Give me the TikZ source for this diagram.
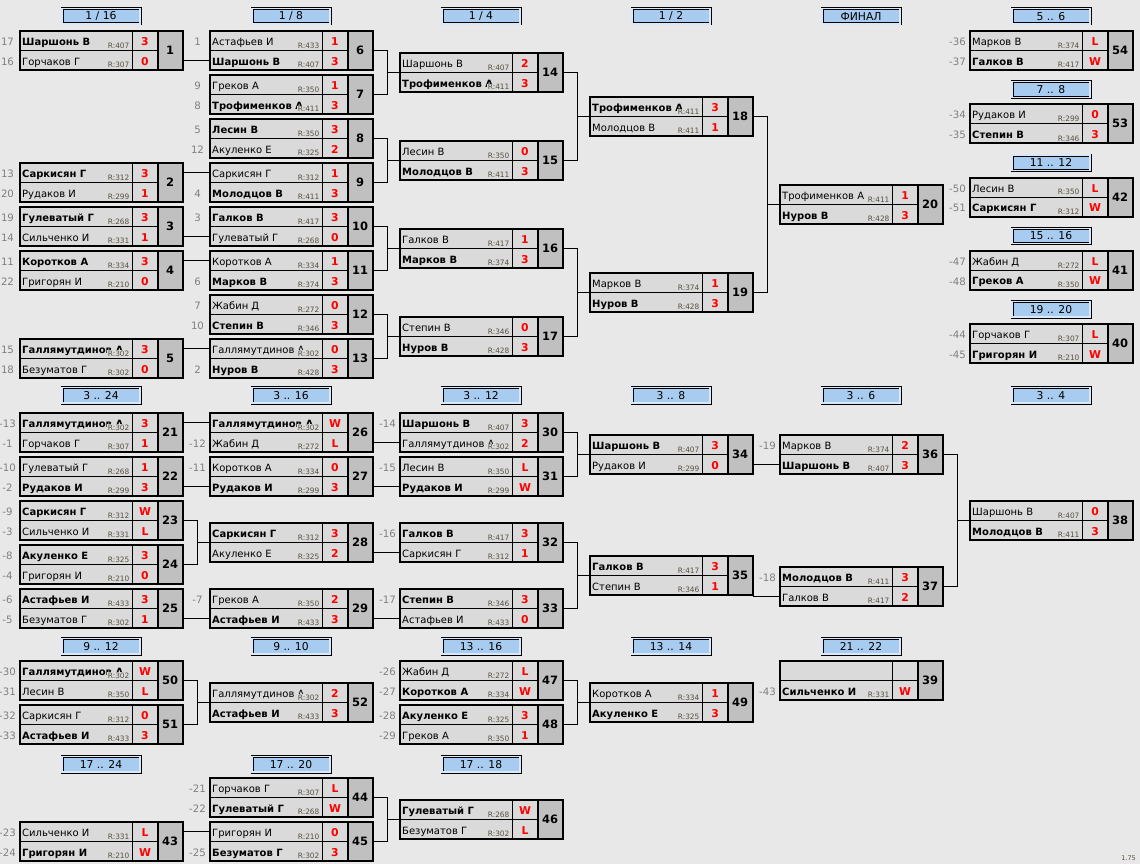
\documentclass[tikz,border=0pt]{standalone}
\usepackage{fontspec}
\setmainfont{DejaVu Sans}
\usetikzlibrary{calc}
\definecolor{bgc}{RGB}{232,232,232}
\definecolor{cellc}{RGB}{218,218,218}
\definecolor{numc}{RGB}{192,192,192}
\definecolor{hdrc}{RGB}{168,204,240}
\definecolor{rc}{RGB}{88,80,66}
\definecolor{seedc}{RGB}{128,128,128}
\tikzset{
 nm/.style={anchor=base west, inner sep=0pt, font=\fontsize{10}{12}\selectfont},
 rl/.style={anchor=base east, inner sep=0.4pt, fill=cellc, text=rc, font=\fontsize{7.4}{9}\selectfont},
 sc/.style={anchor=base, inner sep=0pt, text=red, font=\bfseries\fontsize{10.8}{13}\selectfont},
 num/.style={inner sep=0pt, font=\bfseries\fontsize{11.5}{14}\selectfont},
 seed/.style={anchor=base, inner sep=0pt, text=seedc, font=\fontsize{10.2}{12}\selectfont},
 hdr/.style={draw=black, line width=0.8pt, double=hdrc!45!white, double distance=1.4pt, fill=hdrc, minimum width=78pt, minimum height=15.5pt, inner sep=0pt, font=\fontsize{10.8}{13}\selectfont},
 conn/.style={line width=0.9pt},
 frame/.style={line width=2pt},
 grid/.style={line width=0.8pt}
}
% #1 x, #2 y, #3 number, #4 name1, #5 R1, #6 s1, #7 name2, #8 R2, #9 s2
\newcommand\Match[9]{%
 \begin{scope}[shift={(#1,#2)}]
  \fill[cellc] (0,0) rectangle (138,39);
  \fill[numc] (138,0) rectangle (163,39);
  \draw[grid] (0,19.5) -- (138,19.5) (113,0) -- (113,39);
  \begin{scope}
   \clip (0,0) rectangle (113,39);
   \node[nm] (m#3-n1) at (2.5,14.7) {#4};
   \node[nm] (m#3-n2) at (2.5,34.2) {#7};
  \end{scope}
  \ifx\relax#5\relax\else\node[rl] (m#3-r1) at (110.5,17.3) {R:#5};\fi
  \ifx\relax#8\relax\else\node[rl] (m#3-r2) at (110.5,36.8) {R:#8};\fi
  \node[sc] (m#3-s1) at (125.5,14.6) {#6};
  \node[sc] (m#3-s2) at (125.5,34.1) {#9};
  \node[num] (m#3) at (150.5,19.5) {#3};
  \draw[frame] (0,0) rectangle (163,39) (138,0) -- (138,39);
  \coordinate (m#3-a) at (0,9.75);
  \coordinate (m#3-b) at (0,29.25);
  \coordinate (m#3-l) at (0,19.5);
  \coordinate (m#3-r) at (163,19.5);
 \end{scope}}
\newcommand\Hd[4]{\node[hdr] (#1) at (#2+81.5,#3+9.25) {#4};}
\newcommand\St[2]{\draw[conn] (m#1-r |- #2) -- (#2);}
\newcommand\Br[3]{\draw[conn] (m#1-r) -- ++(15,0) coordinate (v#3) |- (m#2-r);
 \draw[conn] (v#3 |- m#3-l) -- (m#3-l);}
\newcommand\Sd[2]{\path (#1) ++(-12,5) node[seed] (s-#1) {#2};}
\begin{document}
\begin{tikzpicture}[x=1pt,y=-1pt]
\fill[bgc] (0,0) rectangle (1140,864);
\useasboundingbox (0,0) rectangle (1140,864);
% headers
\Hd{h1}{19.5}{7}{1 / 16}
\Hd{h2}{209.5}{7}{1 / 8}
\Hd{h3}{399.5}{7}{1 / 4}
\Hd{h4}{589.5}{7}{1 / 2}
\Hd{h5}{779.5}{7}{ФИНАЛ}
\Hd{h6}{969.5}{7}{5 .. 6}
\Hd{h7}{969.5}{80.25}{7 .. 8}
\Hd{h8}{969.5}{153.5}{11 .. 12}
\Hd{h9}{969.5}{226.75}{15 .. 16}
\Hd{h10}{969.5}{300}{19 .. 20}
\Hd{h11}{19.5}{386}{3 .. 24}
\Hd{h12}{209.5}{386}{3 .. 16}
\Hd{h13}{399.5}{386}{3 .. 12}
\Hd{h14}{589.5}{386}{3 .. 8}
\Hd{h15}{779.5}{386}{3 .. 6}
\Hd{h16}{969.5}{386}{3 .. 4}
\Hd{h17}{19.5}{637}{9 .. 12}
\Hd{h18}{209.5}{637}{9 .. 10}
\Hd{h19}{399.5}{637}{13 .. 16}
\Hd{h20}{589.5}{637}{13 .. 14}
\Hd{h21}{779.5}{637}{21 .. 22}
\Hd{h22}{19.5}{755}{17 .. 24}
\Hd{h23}{209.5}{755}{17 .. 20}
\Hd{h24}{399.5}{755}{17 .. 18}
% section 1
\Match{19.5}{31}{1}{\textbf{Шаршонь В}}{407}{3}{Горчаков Г}{307}{0}
\Match{19.5}{163}{2}{\textbf{Саркисян Г}}{312}{3}{Рудаков И}{299}{1}
\Match{19.5}{207}{3}{\textbf{Гулеватый Г}}{268}{3}{Сильченко И}{331}{1}
\Match{19.5}{251}{4}{\textbf{Коротков А}}{334}{3}{Григорян И}{210}{0}
\Match{19.5}{339}{5}{\textbf{Галлямутдинов А}}{302}{3}{Безуматов Г}{302}{0}
\Match{209.5}{31}{6}{Астафьев И}{433}{1}{\textbf{Шаршонь В}}{407}{3}
\Match{209.5}{75}{7}{Греков А}{350}{1}{\textbf{Трофименков А}}{411}{3}
\Match{209.5}{119}{8}{\textbf{Лесин В}}{350}{3}{Акуленко Е}{325}{2}
\Match{209.5}{163}{9}{Саркисян Г}{312}{1}{\textbf{Молодцов В}}{411}{3}
\Match{209.5}{207}{10}{\textbf{Галков В}}{417}{3}{Гулеватый Г}{268}{0}
\Match{209.5}{251}{11}{Коротков А}{334}{1}{\textbf{Марков В}}{374}{3}
\Match{209.5}{295}{12}{Жабин Д}{272}{0}{\textbf{Степин В}}{346}{3}
\Match{209.5}{339}{13}{Галлямутдинов А}{302}{0}{\textbf{Нуров В}}{428}{3}
\Match{399.5}{53}{14}{Шаршонь В}{407}{2}{\textbf{Трофименков А}}{411}{3}
\Match{399.5}{141}{15}{Лесин В}{350}{0}{\textbf{Молодцов В}}{411}{3}
\Match{399.5}{229}{16}{Галков В}{417}{1}{\textbf{Марков В}}{374}{3}
\Match{399.5}{317}{17}{Степин В}{346}{0}{\textbf{Нуров В}}{428}{3}
\Match{589.5}{97}{18}{\textbf{Трофименков А}}{411}{3}{Молодцов В}{411}{1}
\Match{589.5}{273}{19}{Марков В}{374}{1}{\textbf{Нуров В}}{428}{3}
\Match{779.5}{185}{20}{Трофименков А}{411}{1}{\textbf{Нуров В}}{428}{3}
\Match{969.5}{31}{54}{Марков В}{374}{L}{\textbf{Галков В}}{417}{W}
\Match{969.5}{104.25}{53}{Рудаков И}{299}{0}{\textbf{Степин В}}{346}{3}
\Match{969.5}{177.5}{42}{Лесин В}{350}{L}{\textbf{Саркисян Г}}{312}{W}
\Match{969.5}{250.75}{41}{Жабин Д}{272}{L}{\textbf{Греков А}}{350}{W}
\Match{969.5}{324}{40}{Горчаков Г}{307}{L}{\textbf{Григорян И}}{210}{W}
% section 2
\Match{19.5}{413}{21}{\textbf{Галлямутдинов А}}{302}{3}{Горчаков Г}{307}{1}
\Match{19.5}{457}{22}{Гулеватый Г}{268}{1}{\textbf{Рудаков И}}{299}{3}
\Match{19.5}{501}{23}{\textbf{Саркисян Г}}{312}{W}{Сильченко И}{331}{L}
\Match{19.5}{545}{24}{\textbf{Акуленко Е}}{325}{3}{Григорян И}{210}{0}
\Match{19.5}{589}{25}{\textbf{Астафьев И}}{433}{3}{Безуматов Г}{302}{1}
\Match{209.5}{413}{26}{\textbf{Галлямутдинов А}}{302}{W}{Жабин Д}{272}{L}
\Match{209.5}{457}{27}{Коротков А}{334}{0}{\textbf{Рудаков И}}{299}{3}
\Match{209.5}{523}{28}{\textbf{Саркисян Г}}{312}{3}{Акуленко Е}{325}{2}
\Match{209.5}{589}{29}{Греков А}{350}{2}{\textbf{Астафьев И}}{433}{3}
\Match{399.5}{413}{30}{\textbf{Шаршонь В}}{407}{3}{Галлямутдинов А}{302}{2}
\Match{399.5}{457}{31}{Лесин В}{350}{L}{\textbf{Рудаков И}}{299}{W}
\Match{399.5}{523}{32}{\textbf{Галков В}}{417}{3}{Саркисян Г}{312}{1}
\Match{399.5}{589}{33}{\textbf{Степин В}}{346}{3}{Астафьев И}{433}{0}
\Match{589.5}{435}{34}{\textbf{Шаршонь В}}{407}{3}{Рудаков И}{299}{0}
\Match{589.5}{556}{35}{\textbf{Галков В}}{417}{3}{Степин В}{346}{1}
\Match{779.5}{435}{36}{Марков В}{374}{2}{\textbf{Шаршонь В}}{407}{3}
\Match{779.5}{567}{37}{\textbf{Молодцов В}}{411}{3}{Галков В}{417}{2}
\Match{969.5}{501}{38}{Шаршонь В}{407}{0}{\textbf{Молодцов В}}{411}{3}
% section 3
\Match{19.5}{661}{50}{\textbf{Галлямутдинов А}}{302}{W}{Лесин В}{350}{L}
\Match{19.5}{705}{51}{Саркисян Г}{312}{0}{\textbf{Астафьев И}}{433}{3}
\Match{209.5}{683}{52}{Галлямутдинов А}{302}{2}{\textbf{Астафьев И}}{433}{3}
\Match{399.5}{661}{47}{Жабин Д}{272}{L}{\textbf{Коротков А}}{334}{W}
\Match{399.5}{705}{48}{\textbf{Акуленко Е}}{325}{3}{Греков А}{350}{1}
\Match{589.5}{683}{49}{Коротков А}{334}{1}{\textbf{Акуленко Е}}{325}{3}
\Match{779.5}{661}{39}{}{}{}{\textbf{Сильченко И}}{331}{W}
% section 4
\Match{19.5}{822}{43}{Сильченко И}{331}{L}{\textbf{Григорян И}}{210}{W}
\Match{209.5}{778}{44}{Горчаков Г}{307}{L}{\textbf{Гулеватый Г}}{268}{W}
\Match{209.5}{822}{45}{Григорян И}{210}{0}{\textbf{Безуматов Г}}{302}{3}
\Match{399.5}{800}{46}{\textbf{Гулеватый Г}}{268}{W}{Безуматов Г}{302}{L}
% connectors
\St{1}{m6-b}\St{2}{m9-a}\St{3}{m10-b}\St{4}{m11-a}\St{5}{m13-a}
\Br{6}{7}{14}\Br{8}{9}{15}\Br{10}{11}{16}\Br{12}{13}{17}
\Br{14}{15}{18}\Br{16}{17}{19}\Br{18}{19}{20}
\St{21}{m26-a}\St{22}{m27-b}\Br{23}{24}{28}\St{25}{m29-b}
\St{26}{m30-b}\St{27}{m31-b}\St{28}{m32-b}\St{29}{m33-b}
\Br{30}{31}{34}\Br{32}{33}{35}
\St{34}{m36-b}\St{35}{m37-b}\Br{36}{37}{38}
\Br{50}{51}{52}\Br{47}{48}{49}
\St{43}{m45-a}\Br{44}{45}{46}
% seeds
\Sd{m1-a}{17}\Sd{m1-b}{16}\Sd{m2-a}{13}\Sd{m2-b}{20}\Sd{m3-a}{19}\Sd{m3-b}{14}
\Sd{m4-a}{11}\Sd{m4-b}{22}\Sd{m5-a}{15}\Sd{m5-b}{18}
\Sd{m6-a}{1}\Sd{m7-a}{9}\Sd{m7-b}{8}\Sd{m8-a}{5}\Sd{m8-b}{12}\Sd{m9-b}{4}
\Sd{m10-a}{3}\Sd{m11-b}{6}\Sd{m12-a}{7}\Sd{m12-b}{10}\Sd{m13-b}{2}
\Sd{m54-a}{-36}\Sd{m54-b}{-37}\Sd{m53-a}{-34}\Sd{m53-b}{-35}
\Sd{m42-a}{-50}\Sd{m42-b}{-51}\Sd{m41-a}{-47}\Sd{m41-b}{-48}
\Sd{m40-a}{-44}\Sd{m40-b}{-45}
\Sd{m21-a}{-13}\Sd{m21-b}{-1}\Sd{m22-a}{-10}\Sd{m22-b}{-2}
\Sd{m23-a}{-9}\Sd{m23-b}{-3}\Sd{m24-a}{-8}\Sd{m24-b}{-4}
\Sd{m25-a}{-6}\Sd{m25-b}{-5}
\Sd{m26-b}{-12}\Sd{m27-a}{-11}\Sd{m29-a}{-7}
\Sd{m30-a}{-14}\Sd{m31-a}{-15}\Sd{m32-a}{-16}\Sd{m33-a}{-17}
\Sd{m36-a}{-19}\Sd{m37-a}{-18}
\Sd{m50-a}{-30}\Sd{m50-b}{-31}\Sd{m51-a}{-32}\Sd{m51-b}{-33}
\Sd{m47-a}{-26}\Sd{m47-b}{-27}\Sd{m48-a}{-28}\Sd{m48-b}{-29}
\Sd{m39-b}{-43}
\Sd{m43-a}{-23}\Sd{m43-b}{-24}\Sd{m44-a}{-21}\Sd{m44-b}{-22}\Sd{m45-b}{-25}
\node[anchor=base east, inner sep=0pt, text=rc, font=\fontsize{6.5}{8}\selectfont] (ver) at (1136,860) {1.75};
\end{tikzpicture}
\end{document}
